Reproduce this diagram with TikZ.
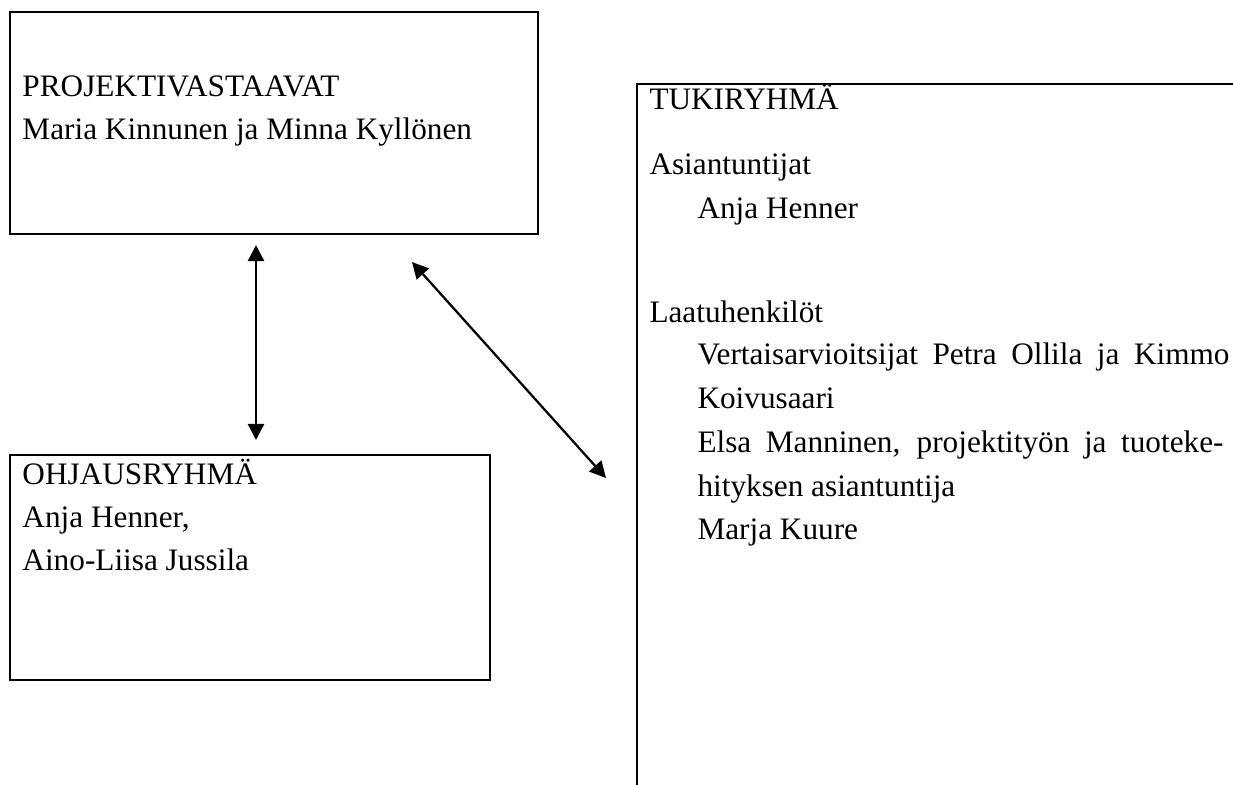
\documentclass[tikz,border=0pt]{standalone}
\usepackage{fontspec}
\setmainfont{Liberation Serif}
\usetikzlibrary{arrows.meta}
\begin{document}
\begin{tikzpicture}[x=0.4pt,y=-0.4pt,
  txt/.style={anchor=base west, inner sep=0pt, font=\fontsize{12.5}{15}\selectfont},
  frame/.style={draw, line width=0.9pt, inner sep=0pt},
  link/.style={line width=0.9pt, {Triangle[length=6.5pt,width=6.5pt]}-{Triangle[length=6.5pt,width=6.5pt]}}]
\useasboundingbox (0,0) rectangle (1233,785);
% boxes
\node[frame, minimum width=211.2pt, minimum height=88.8pt] (proj) at (274,123) {};
\node[frame, minimum width=192pt, minimum height=90pt] (ohj) at (250,567.5) {};
\coordinate (tuki) at (637,84);
\coordinate (tukiR) at (1233,84);
\coordinate (tukiB) at (637,785);
\draw[line width=0.9pt] (tukiR) -- (tuki) -- (tukiB);
% texts
\node[txt] (p1) at (22,97) {PROJEKTIVASTAAVAT};
\node[txt] (p2) at (22,140) {Maria Kinnunen ja Minna Kyllönen};
\node[txt] (o1) at (22,484) {OHJAUSRYHMÄ};
\node[txt] (o2) at (22,527) {Anja Henner,};
\node[txt] (o3) at (22,570) {Aino-Liisa Jussila};
\node[txt] (t1) at (649,110) {TUKIRYHMÄ};
\node[txt] (t2) at (649,175) {Asiantuntijat};
\node[txt] (t3) at (697,219) {Anja Henner};
\node[txt] (t4) at (649,322) {Laatuhenkilöt};
\node[txt] (t5) at (697,365) {\makebox[212.8pt][s]{Vertaisarvioitsijat Petra Ollila ja Kimmo}};
\node[txt] (t6) at (697,409) {Koivusaari};
\node[txt] (t7) at (697,452) {\makebox[210.4pt][s]{Elsa Manninen, projektityön ja tuoteke-}};
\node[txt] (t8) at (697,496) {hityksen asiantuntija};
\node[txt] (t9) at (697,539) {Marja Kuure};
% arrows
\coordinate (a1) at (256,245);
\coordinate (a2) at (256,440);
\coordinate (d1) at (412,262);
\coordinate (d2) at (606,478);
\draw[link] (a1) -- (a2);
\draw[link] (d1) -- (d2);
\end{tikzpicture}
\end{document}
